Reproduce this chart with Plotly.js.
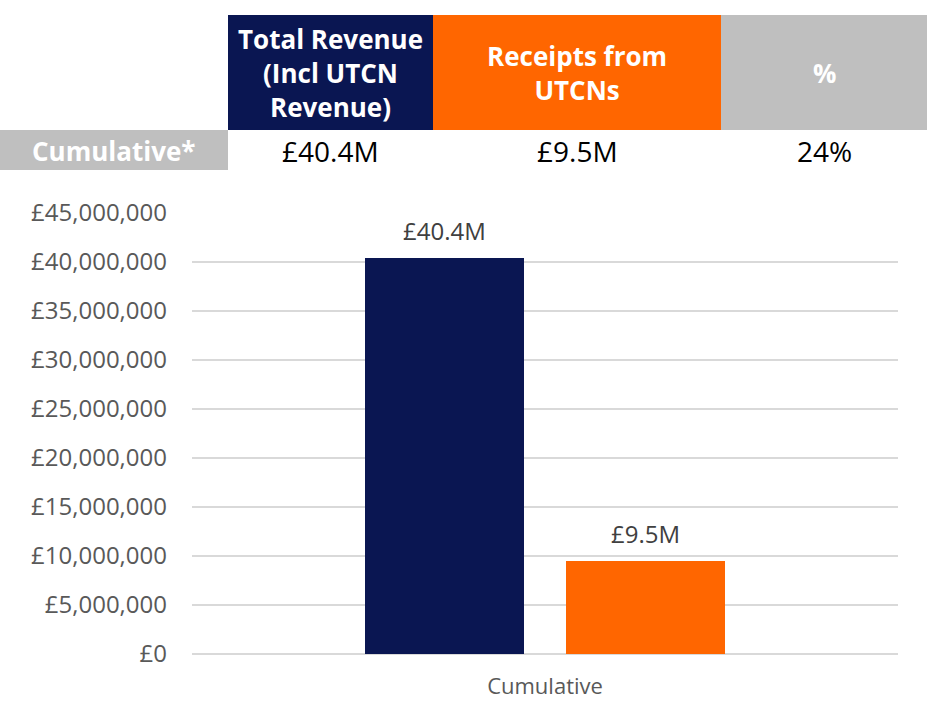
<!DOCTYPE html>
<html><head><meta charset="utf-8">
<script src="https://cdn.plot.ly/plotly-3.0.1.min.js"></script>
<style>html,body{margin:0;padding:0;background:#fff}#chart{width:930px;height:702px}</style>
</head><body><div id="chart"></div>
<script>
// ---- data ----
const categories = ["Cumulative"];
const seriesNames = ["Total Revenue (Incl UTCN Revenue)", "Receipts from UTCNs"];
const totalRevenue = [40400000];
const utcnReceipts = [9500000];
const barLabels = [["£40.4M"], ["£9.5M"]];
const yTickVals = [0, 5000000, 10000000, 15000000, 20000000, 25000000, 30000000, 35000000, 40000000, 45000000];
const yTickText = ["£0", "£5,000,000", "£10,000,000", "£15,000,000", "£20,000,000", "£25,000,000", "£30,000,000", "£35,000,000", "£40,000,000", "£45,000,000"];
const tableHeaders = ["Total Revenue<br>(Incl UTCN<br>Revenue)", "Receipts from<br>UTCNs", "%"];
const tableRowLabel = "Cumulative*";
const tableValues = ["£40.4M", "£9.5M", "24%"];

// ---- styling ----
const NAVY = "#0A1652", ORANGE = "#FF6600", GREY = "#BFBFBF";
const colors = [NAVY, ORANGE];
const W = 930, H = 702;
const L = 192, R = 898, T = 213, B = 654;
const px = x => (x - L) / (R - L);
const py = y => (B - y) / (B - T);
const barW = 159 / (R - L);
const barOffsets = [(365 - 545) / (R - L), (566 - 545) / (R - L)];
const SANS = "Open Sans, sans-serif";

const traces = [totalRevenue, utcnReceipts].map((vals, i) => ({
  type: "bar", x: categories, y: vals, name: seriesNames[i],
  width: barW, offset: barOffsets[i],
  marker: {color: colors[i]}, hoverinfo: "skip", showlegend: false
}));

const shapes = [];
const annotations = [];
const headerCols = [[228, 433, NAVY], [433, 721, ORANGE], [721, 927, GREY]];
headerCols.forEach((c, i) => {
  shapes.push({type: "rect", xref: "paper", yref: "paper", x0: px(c[0]), x1: px(c[1]), y0: py(130), y1: py(15), fillcolor: c[2], line: {width: 0}, layer: "below"});
  annotations.push({xref: "paper", yref: "paper", x: px((c[0] + c[1]) / 2), y: py(73), xanchor: "center", yanchor: "middle", showarrow: false,
    text: "<b>" + tableHeaders[i] + "</b>", font: {family: SANS, size: 26, color: "#ffffff"}});
  annotations.push({xref: "paper", yref: "paper", x: px((c[0] + c[1]) / 2), y: py(151), xanchor: "center", yanchor: "middle", showarrow: false,
    text: tableValues[i], font: {family: SANS, size: 28, color: "#000000"}});
});
shapes.push({type: "rect", xref: "paper", yref: "paper", x0: px(0), x1: px(228), y0: py(170), y1: py(130), fillcolor: GREY, line: {width: 0}, layer: "below"});
annotations.push({xref: "paper", yref: "paper", x: px(113), y: py(151), xanchor: "center", yanchor: "middle", showarrow: false,
  text: "<b>" + tableRowLabel + "</b>", font: {family: SANS, size: 26, color: "#ffffff"}});

// bar value labels
[totalRevenue, utcnReceipts].forEach((vals, i) => {
  annotations.push({x: categories[0], y: vals[0], xref: "x", yref: "y", xshift: i === 0 ? -100.5 : 100.5, yshift: 9,
    xanchor: "center", yanchor: "bottom", showarrow: false, text: barLabels[i][0],
    font: {family: SANS, size: 24, color: "#404040"}});
});

const layout = {
  width: W, height: H,
  margin: {l: L, r: W - R, t: T, b: H - B, pad: 0},
  paper_bgcolor: "#ffffff", plot_bgcolor: "#ffffff",
  barmode: "overlay",
  xaxis: {type: "category", range: [-0.5, 0.5], showgrid: false, zeroline: false, showline: false, ticks: "",
    ticklabelstandoff: 17,
    tickfont: {family: SANS, size: 22, color: "#595959"}},
  yaxis: {range: [0, 45000000], tickmode: "array", tickvals: yTickVals, ticktext: yTickText,
    showgrid: true, gridcolor: "#D9D9D9", gridwidth: 1.5, zeroline: true, zerolinecolor: "#D9D9D9", zerolinewidth: 1.5,
    showline: false, ticks: "", ticklabelstandoff: 24,
    tickfont: {family: SANS, size: 24, color: "#595959"}},
  shapes: shapes, annotations: annotations, showlegend: false
};
Plotly.newPlot("chart", traces, layout, {staticPlot: true, displayModeBar: false});
</script></body></html>
